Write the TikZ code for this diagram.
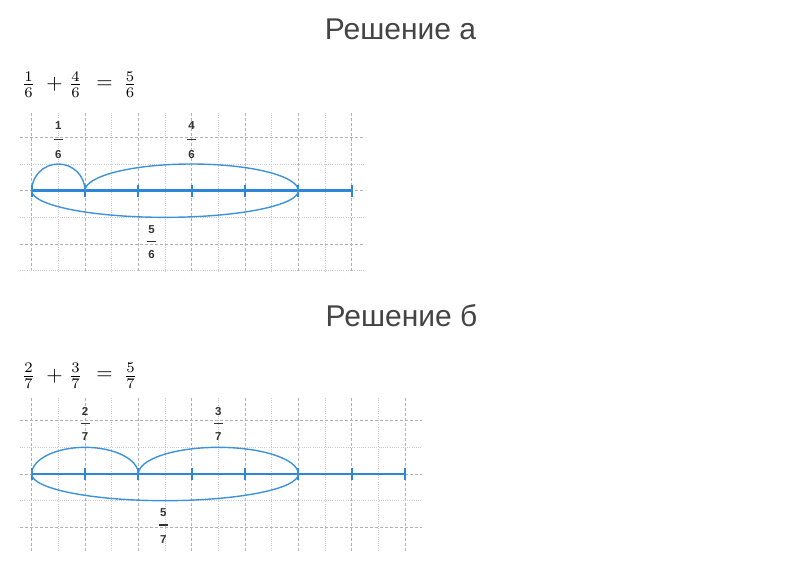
\documentclass[tikz,border=0pt]{standalone}
\usepackage{fontspec}
\setsansfont{Liberation Sans}
\newfontfamily\titlefamily{Liberation Sans}
\definecolor{lineblue}{HTML}{2E86D6}
\definecolor{arcblue}{HTML}{3D92DC}
\definecolor{titlegray}{HTML}{444444}
\definecolor{labgray}{HTML}{333333}
\tikzset{
  gridA/.style={draw=gray!60, line width=0.7pt, dash pattern=on 3pt off 2pt},
  gridB/.style={draw=gray!40, line width=0.6pt, dash pattern=on 1pt off 1.2pt},
  numline/.style={draw=lineblue, line width=2.8pt},
  tickmark/.style={draw=lineblue, line width=2pt},
  jump/.style={draw=arcblue, line width=1.4pt},
  lbl/.style={font=\fontsize{11.5}{12}\selectfont\sffamily\bfseries, text=labgray, inner sep=0pt},
  lblbar/.style={draw=labgray, line width=1.8pt},
  heading/.style={font=\fontsize{30}{36}\selectfont\titlefamily, text=titlegray, inner sep=0pt, anchor=base},
  formula/.style={scale=2.1, inner sep=0pt}
}
\begin{document}
\begin{tikzpicture}[x=1pt,y=1pt]
\useasboundingbox (0,0) rectangle (800,-586);

% ---------- Solution a ----------
\node[heading] (titleA) at (400.5,-40) {Решение а};

\node[formula] (fa1) at (28.5,-84.7) {$\frac{1}{6}$};
\node[formula] (fa2) at (54.5,-84.7) {$+$};
\node[formula] (fa3) at (75.5,-84.7) {$\frac{4}{6}$};
\node[formula] (fa4) at (104.5,-84.7) {$=$};
\node[formula] (fa5) at (130,-84.7) {$\frac{5}{6}$};

% grid
\foreach \i in {0,...,12}{
  \ifodd\i
    \draw[gridB] ({31.667+26.667*\i},-113) -- ({31.667+26.667*\i},-273);
  \else
    \draw[gridA] ({31.667+26.667*\i},-113) -- ({31.667+26.667*\i},-273);
  \fi
}
\foreach \j in {0,...,5}{
  \ifodd\j
    \draw[gridB] (20,{-137.33-26.667*\j}) -- (365,{-137.33-26.667*\j});
  \else
    \draw[gridA] (20,{-137.33-26.667*\j}) -- (365,{-137.33-26.667*\j});
  \fi
}

% number line
\foreach \k in {0,...,6}{
  \coordinate (a\k) at ({31.667+53.333*\k},-190.67);
}
\draw[numline] (a0) -- (a6);
\foreach \k in {0,...,6}{
  \draw[tickmark] ([yshift=6pt]a\k) -- ([yshift=-6pt]a\k);
}

% jumps
\draw[jump] (a0) arc[start angle=180, end angle=0, x radius=26.667, y radius=26.667];
\draw[jump] (a1) arc[start angle=180, end angle=0, x radius=106.667, y radius=26.667];
\draw[jump] (a0) arc[start angle=180, end angle=360, x radius=133.333, y radius=26.667];

% labels
\node[lbl] (la1n) at (58.33,-125.8) {1};
\draw[lblbar] (53.8,-139.5) -- (62.8,-139.5);
\node[lbl] (la1d) at (58.33,-154.3) {6};

\node[lbl] (la2n) at (191.67,-125.8) {4};
\draw[lblbar] (187.1,-139.5) -- (196.2,-139.5);
\node[lbl] (la2d) at (191.67,-154.3) {6};

\node[lbl] (la3n) at (151.67,-229.3) {5};
\draw[lblbar] (147.1,-241.5) -- (156.2,-241.5);
\node[lbl] (la3d) at (151.67,-255) {6};

% ---------- Solution b ----------
\node[heading] (titleB) at (401.5,-326.7) {Решение б};

\node[formula] (fb1) at (28.5,-376) {$\frac{2}{7}$};
\node[formula] (fb2) at (54.5,-376) {$+$};
\node[formula] (fb3) at (75.5,-376) {$\frac{3}{7}$};
\node[formula] (fb4) at (104.5,-376) {$=$};
\node[formula] (fb5) at (130.5,-376) {$\frac{5}{7}$};

% grid
\foreach \i in {0,...,14}{
  \ifodd\i
    \draw[gridB] ({31.667+26.667*\i},-398) -- ({31.667+26.667*\i},-552);
  \else
    \draw[gridA] ({31.667+26.667*\i},-398) -- ({31.667+26.667*\i},-552);
  \fi
}
\foreach \j in {0,...,4}{
  \ifodd\j
    \draw[gridB] (20,{-420.67-26.667*\j}) -- (421.7,{-420.67-26.667*\j});
  \else
    \draw[gridA] (20,{-420.67-26.667*\j}) -- (421.7,{-420.67-26.667*\j});
  \fi
}

% number line
\foreach \k in {0,...,7}{
  \coordinate (b\k) at ({31.667+53.333*\k},-474);
}
\draw[numline] (b0) -- (b7);
\foreach \k in {0,...,7}{
  \draw[tickmark] ([yshift=6pt]b\k) -- ([yshift=-6pt]b\k);
}

% jumps
\draw[jump] (b0) arc[start angle=180, end angle=0, x radius=53.333, y radius=26.667];
\draw[jump] (b2) arc[start angle=180, end angle=0, x radius=80, y radius=26.667];
\draw[jump] (b0) arc[start angle=180, end angle=360, x radius=133.333, y radius=26.667];

% labels
\node[lbl] (lb1n) at (85,-411.7) {2};
\draw[lblbar] (80.5,-423.5) -- (89.5,-423.5);
\node[lbl] (lb1d) at (85,-437) {7};

\node[lbl] (lb2n) at (218.3,-411.7) {3};
\draw[lblbar] (213.8,-423.5) -- (222.8,-423.5);
\node[lbl] (lb2d) at (218.3,-437) {7};

\node[lbl] (lb3n) at (163.3,-512.7) {5};
\draw[lblbar] (158.8,-525) -- (167.8,-525);
\node[lbl] (lb3d) at (163.3,-539.3) {7};
\end{tikzpicture}
\end{document}
